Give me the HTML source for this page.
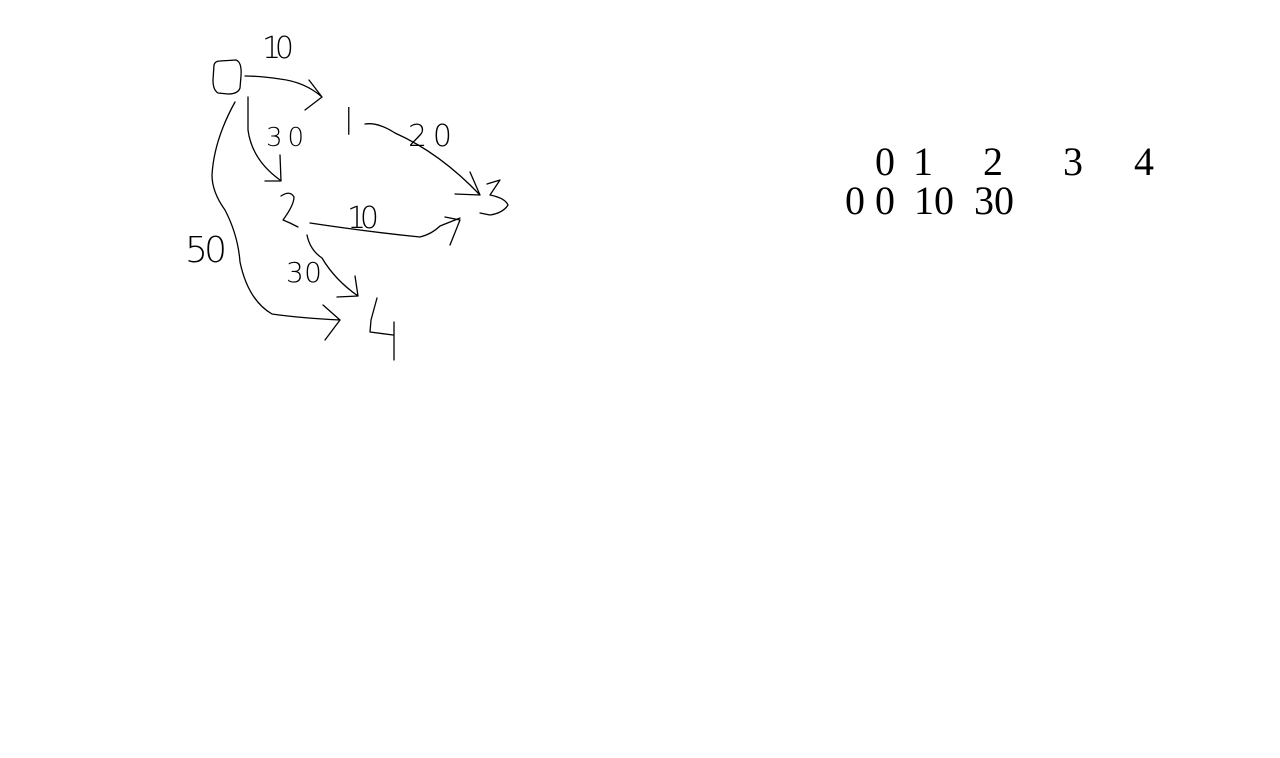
<!DOCTYPE html>
<html><head><meta charset="utf-8"><style>
html,body{margin:0;padding:0;background:#fff;width:1280px;height:758px;overflow:hidden}
svg{display:block}
.h{font-family:"DejaVu Sans","Liberation Sans",sans-serif;font-weight:200;fill:#000}
.t{font-family:"Liberation Serif",serif;font-size:40px;fill:#000}
path{fill:none;stroke:#000;stroke-width:1.3;stroke-linecap:round;stroke-linejoin:round}
</style></head><body>
<svg width="1280" height="758" viewBox="0 0 1280 758">
<g>
  <path d="M220 61 L236 60 Q242 62 241 76 L240 88 Q238 94 228 94 L218 93 Q213 90 213 80 L214 65 Q215 61 220 61"/>
  <text class="h" x="344" y="128" font-size="28">|</text>
  <path d="M281 196 Q290 190 294 197 Q294 205 283 220 L290 223 L298 227"/>
  <path d="M487 184 L500 180 L490 195 Q505 198 508 205 Q503 213 490 215 L480 213"/>
  <path d="M377 298 L371 320 L370 332 L393 335 M394 322 L394 360"/>

  <path d="M245 76 Q260 76 280 79 Q305 82 322 97 M309 80 L322 97 L305 110"/>
  <path d="M365 124 Q378 122 395 133 Q440 153 480 195 M470 172 L480 195 L455 194"/>
  <path d="M248 97 L248 130 Q252 160 280 180 M280 155 L281 181 L265 181"/>
  <path d="M310 223 Q370 232 420 237 Q432 234 440 226 L460 218 M445 217 L460 220 L450 245"/>
  <path d="M307 235 Q310 250 322 258 Q335 280 358 296 M355 276 L358 296 L337 297"/>
  <path d="M235 102 Q214 140 212 175 Q212 192 225 210 Q238 235 240 262 Q248 300 272 314 Q300 318 340 320 M323 305 L340 320 L325 340"/>

  <text class="h" x="262" y="58" font-size="30" textLength="32">10</text>
  <text class="h" x="408" y="146" font-size="30" textLength="44">20</text>
  <text class="h" x="266" y="146" font-size="26" textLength="38">30</text>
  <text class="h" x="347" y="228" font-size="30" textLength="32">10</text>
  <text class="h" x="286" y="282" font-size="28" textLength="36">30</text>
  <text class="h" x="185" y="262" font-size="36" textLength="42">50</text>
</g>
<g>
  <text class="t" x="875" y="175">0</text>
  <text class="t" x="913" y="175">1</text>
  <text class="t" x="983" y="175">2</text>
  <text class="t" x="1063" y="175">3</text>
  <text class="t" x="1134" y="175">4</text>
  <text class="t" x="845" y="214">0</text>
  <text class="t" x="875" y="214">0</text>
  <text class="t" x="914" y="214">10</text>
  <text class="t" x="974" y="214">30</text>
</g>
</svg>
</body></html>
